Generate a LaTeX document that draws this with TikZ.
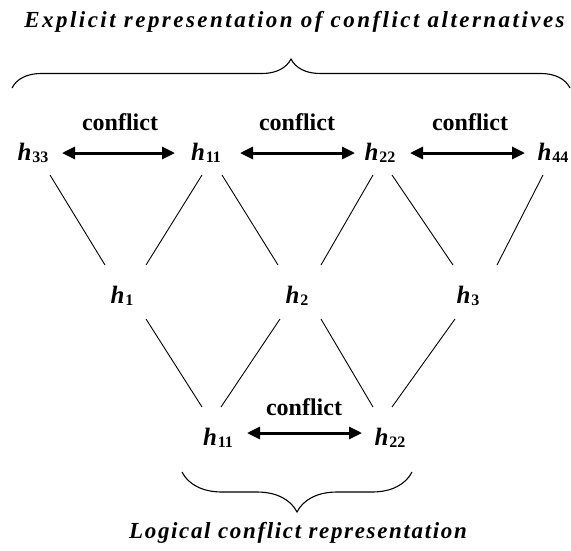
\documentclass[tikz,border=0pt]{standalone}
\usepackage{fontspec}
\setmainfont{Liberation Serif}
\usetikzlibrary{arrows.meta,decorations.pathreplacing}
\newcommand\hlab[1]{{\fontsize{25}{25}\selectfont\bfseries\itshape h}\kern0.8pt\raisebox{-2.5pt}{\fontsize{16}{16}\selectfont\bfseries #1}}
\newcommand\cflab{{\fontsize{24}{24}\selectfont\bfseries conflict}}
\begin{document}
\begin{tikzpicture}[x=1pt,y=-1pt,
  hn/.style={inner sep=0pt,anchor=base},
  lab/.style={inner sep=0pt,anchor=base},
  cf/.style={line width=3pt,{Triangle[length=13pt,width=12pt]}-{Triangle[length=13pt,width=12pt]}},
  ln/.style={line width=0.9pt},
  brc/.style={line width=1.1pt,decorate,decoration={brace,amplitude=#1}}]
\useasboundingbox (0,0) rectangle (571,550);
% titles
\node[lab] (t1) at (294.5,27) {\fontsize{23}{23}\selectfont\bfseries\itshape\addfontfeatures{LetterSpace=10.7}Explicit representation of conflict alternatives};
\node[lab] (t2) at (298,538) {\fontsize{23}{23}\selectfont\bfseries\itshape\addfontfeatures{LetterSpace=7.2}Logical conflict representation};
% braces
\draw[brc=29pt] (12,88) -- (570,88);
\draw[brc=40pt] (412,472) -- (182,472);
% top row
\node[hn] (h33) at (33,160) {\hlab{33}};
\node[hn] (h11) at (206,160) {\hlab{11}};
\node[hn] (h22) at (380,160) {\hlab{22}};
\node[hn] (h44) at (553,160) {\hlab{44}};
\node[lab] (c1) at (120,130) {\cflab};
\node[lab] (c2) at (297,130) {\cflab};
\node[lab] (c3) at (470,130) {\cflab};
% middle row
\node[hn] (h1) at (122,303) {\hlab{1}};
\node[hn] (h2) at (297,303) {\hlab{2}};
\node[hn] (h3) at (468,303) {\hlab{3}};
% bottom row
\node[hn] (b11) at (218,445) {\hlab{11}};
\node[hn] (b22) at (390,445) {\hlab{22}};
\node[lab] (c4) at (304,415) {\cflab};
% conflict arrows
\draw[cf] ([shift={(29,-7)}]h33.base) -- ([shift={(-31,-7)}]h11.base);
\draw[cf] ([shift={(34,-7)}]h11.base) -- ([shift={(-25,-7)}]h22.base);
\draw[cf] ([shift={(30,-7)}]h22.base) -- ([shift={(-28,-7)}]h44.base);
\draw[cf] ([shift={(29,-12)}]b11.base) -- ([shift={(-28,-12)}]b22.base);
% lattice lines
\draw[ln] ([shift={(17,15)}]h33.base) -- ([shift={(-17,-38)}]h1.base);
\draw[ln] ([shift={(-4,15)}]h11.base) -- ([shift={(24,-38)}]h1.base);
\draw[ln] ([shift={(16,15)}]h11.base) -- ([shift={(-19,-38)}]h2.base);
\draw[ln] ([shift={(-7,15)}]h22.base) -- ([shift={(24,-38)}]h2.base);
\draw[ln] ([shift={(12,15)}]h22.base) -- ([shift={(-15,-38)}]h3.base);
\draw[ln] ([shift={(-10,15)}]h44.base) -- ([shift={(29,-38)}]h3.base);
\draw[ln] ([shift={(24,16)}]h1.base) -- ([shift={(-16,-38)}]b11.base);
\draw[ln] ([shift={(-17,16)}]h2.base) -- ([shift={(3,-38)}]b11.base);
\draw[ln] ([shift={(24,16)}]h2.base) -- ([shift={(-17,-38)}]b22.base);
\draw[ln] ([shift={(-13,16)}]h3.base) -- ([shift={(2,-38)}]b22.base);
\end{tikzpicture}
\end{document}
